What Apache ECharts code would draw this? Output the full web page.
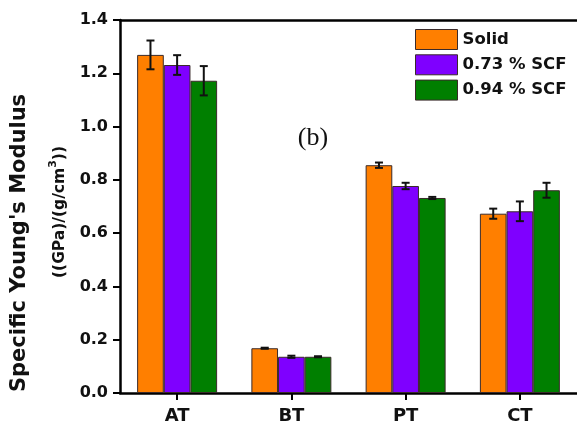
<!DOCTYPE html>
<html>
<head>
<meta charset="utf-8">
<script src="https://cdn.jsdelivr.net/npm/echarts@6/dist/echarts.min.js"></script>
<style>
html,body{margin:0;padding:0;background:#fff;}
#chart{width:577px;height:431px;}
</style>
</head>
<body>
<div id="chart"></div>
<script>
const categories = ['AT', 'BT', 'PT', 'CT'];
const seriesNames = ['Solid', '0.73 % SCF', '0.94 % SCF'];
const solid = [1.269, 0.168, 0.855, 0.673];
const scf073 = [1.231, 0.136, 0.777, 0.682];
const scf094 = [1.172, 0.136, 0.732, 0.761];
const solidErr = [0.054, 0.002, 0.010, 0.019];
const scf073Err = [0.037, 0.004, 0.012, 0.037];
const scf094Err = [0.055, 0.002, 0.004, 0.028];
const yTicks = [0.0, 0.2, 0.4, 0.6, 0.8, 1.0, 1.2, 1.4];
const yTitle1 = "Specific Young's Modulus";
const yTitle2a = '((GPa)/(g/cm';
const yTitle2sup = '3';
const yTitle2b = '))';
const panelLabel = '(b)';

const colors = ['#FF7F00', '#7F00FF', '#007F00'];
const values = [solid, scf073, scf094];
const errs = [solidErr, scf073Err, scf094Err];
const CAT_GAP = 0.30;
const FONT = '"DejaVu Sans", sans-serif';

const chart = echarts.init(document.getElementById('chart'), null, {renderer: 'canvas'});

const barSeries = values.map((vals, i) => ({
  name: seriesNames[i],
  type: 'bar',
  data: vals,
  barGap: '0%',
  barCategoryGap: (CAT_GAP * 100) + '%',
  itemStyle: {color: colors[i], borderColor: '#3a2a2a', borderWidth: 1},
  emphasis: {disabled: true},
  z: 2
}));

const errSeries = values.map((vals, i) => ({
  type: 'custom',
  name: seriesNames[i] + ' err',
  data: vals.map((v, k) => [k, v, errs[i][k]]),
  z: 5,
  silent: true,
  renderItem: function (params, api) {
    const k = api.value(0), v = api.value(1), e = api.value(2);
    const band = api.size([1, 0])[0];
    const bw = band * (1 - CAT_GAP) / 3;
    const off = (i - 1) * bw;
    const top = api.coord([k, v + e]);
    const bot = api.coord([k, v - e]);
    const x = top[0] + off;
    const cap = 4;
    const style = {stroke: '#111', lineWidth: 2};
    return {
      type: 'group',
      children: [
        {type: 'line', shape: {x1: x, y1: top[1], x2: x, y2: bot[1]}, style: style},
        {type: 'line', shape: {x1: x - cap, y1: top[1], x2: x + cap, y2: top[1]}, style: style},
        {type: 'line', shape: {x1: x - cap, y1: bot[1], x2: x + cap, y2: bot[1]}, style: style}
      ]
    };
  }
}));

const option = {
  backgroundColor: '#ffffff',
  animation: false,
  grid: {left: 120, top: 20, width: 461, height: 373},
  legend: {
    data: seriesNames.map((n, i) => ({name: n, itemStyle: {color: colors[i], borderColor: '#3a2a2a', borderWidth: 1}})),
    orient: 'vertical',
    left: 410, top: 24,
    itemWidth: 42, itemHeight: 20, itemGap: 4.3,
    icon: 'rect',
    selectedMode: false,
    textStyle: {fontFamily: FONT, fontWeight: 'bold', fontSize: 16.5, color: '#111'}
  },
  xAxis: [{
    type: 'category',
    data: categories,
    axisLine: {lineStyle: {color: '#000', width: 2.5}},
    axisTick: {show: true, alignWithLabel: true, length: 7, lineStyle: {color: '#000', width: 2}},
    axisLabel: {fontFamily: FONT, fontWeight: 'bold', fontSize: 18, color: '#111', margin: 14}
  }, {
    type: 'category',
    position: 'top',
    data: categories,
    axisLine: {show: true, lineStyle: {color: '#000', width: 2.5}},
    axisTick: {show: false},
    axisLabel: {show: false}
  }],
  yAxis: {
    type: 'value',
    min: yTicks[0], max: yTicks[yTicks.length - 1], interval: 0.2,
    axisLine: {show: true, lineStyle: {color: '#000', width: 2.5}},
    axisTick: {show: true, length: 7, lineStyle: {color: '#000', width: 2}},
    splitLine: {show: false},
    axisLabel: {
      fontFamily: FONT, fontWeight: 'bold', fontSize: 16, color: '#111', margin: 12,
      formatter: v => v.toFixed(1)
    }
  },
  graphic: [
    {
      type: 'text', x: 20, y: 243, rotation: Math.PI / 2,
      style: {text: yTitle1, font: 'bold 21px "DejaVu Sans", sans-serif', fill: '#111', textAlign: 'center', textVerticalAlign: 'middle'}
    },
    {
      type: 'text', x: 58, y: 212, rotation: Math.PI / 2,
      style: {
        text: '{m|' + yTitle2a + '}{s|' + yTitle2sup + '}{m|' + yTitle2b + '}',
        textAlign: 'center', textVerticalAlign: 'middle',
        rich: {
          m: {fontFamily: FONT, fontWeight: 'bold', fontSize: 15.5, fill: '#111', lineHeight: 20, verticalAlign: 'bottom'},
          s: {fontFamily: FONT, fontWeight: 'bold', fontSize: 11, fill: '#111', lineHeight: 20, verticalAlign: 'top'}
        }
      }
    },
    {
      type: 'text', x: 313, y: 138,
      style: {text: panelLabel, font: '26px "Liberation Serif", serif', fill: '#111', textAlign: 'center', textVerticalAlign: 'middle'}
    }
  ],
  series: barSeries.concat(errSeries)
};
chart.setOption(option);
</script>
</body>
</html>
